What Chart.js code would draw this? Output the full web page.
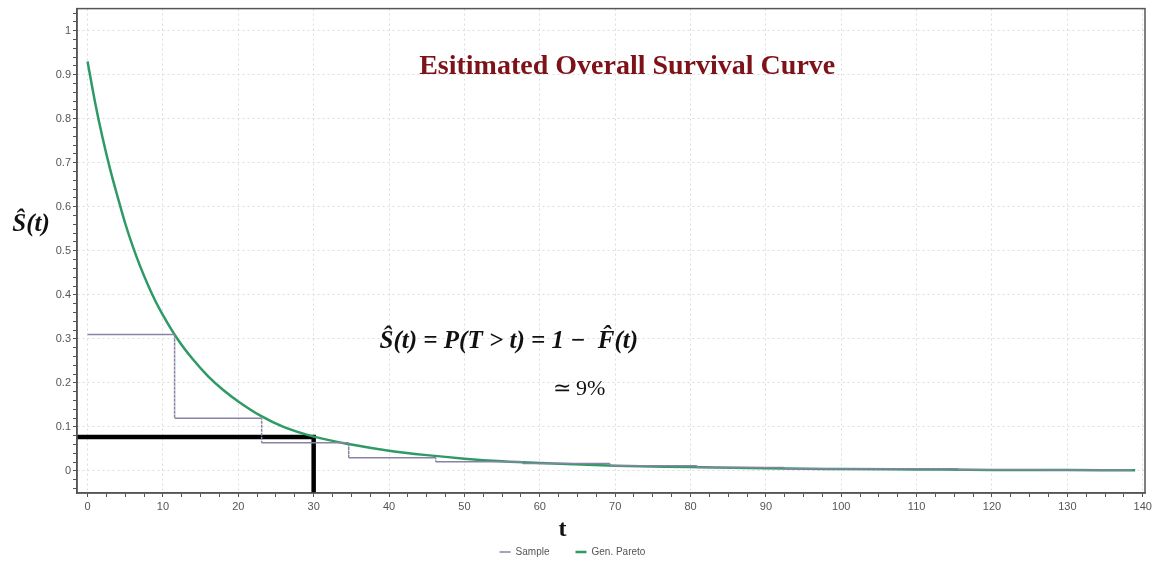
<!DOCTYPE html>
<html>
<head>
<meta charset="utf-8">
<script src="https://cdn.jsdelivr.net/npm/chart.js@4.4.1/dist/chart.umd.min.js"></script>
<style>
  body { margin: 0; background: #fff; }
</style>
</head>
<body>
<canvas id="myChart" width="1158" height="563"></canvas>
<script>
// fitted generalized Pareto survival curve
const paretoT = [0, 1, 2, 3, 4, 5, 6, 7, 8, 9, 10, 12, 14, 16, 18, 20, 23, 26, 30, 35, 40, 45, 50, 55, 60, 70, 80, 90, 100, 110, 120, 130, 139];
const paretoS = [0.93, 0.837, 0.756, 0.685, 0.622, 0.562, 0.51, 0.464, 0.423, 0.386, 0.354, 0.298, 0.253, 0.215, 0.184, 0.158, 0.125, 0.1, 0.078, 0.06, 0.046, 0.036, 0.028, 0.022, 0.018, 0.012, 0.009, 0.006, 0.0045, 0.0035, 0.0025, 0.002, 0.0015];

// sample step function: jump times and the level held until the next jump
const sampleT = [0, 11.55, 23.1, 34.65, 46.2, 57.75, 69.3, 80.85, 92.4, 103.95, 115.5, 127.05, 138.6];
const sampleS = [0.31, 0.12, 0.064, 0.03, 0.021, 0.017, 0.012, 0.008, 0.005, 0.005, 0.003, 0.002];

// reading at t = 30
const markT = 30;
const markS = 0.077;

const xTickLabels = [0, 10, 20, 30, 40, 50, 60, 70, 80, 90, 100, 110, 120, 130, 140];
const yTickLabels = [0, 0.1, 0.2, 0.3, 0.4, 0.5, 0.6, 0.7, 0.8, 0.9, 1];

const xMin = -1.4, xMax = 140.3;
const yMin = -0.05, yMax = 1.05;

//build point lists from the arrays
const paretoPoints = paretoT.map((t, i) => ({x: t, y: paretoS[i]}));
const samplePoints = [];
for (let i = 0; i < sampleS.length; i++) {
    samplePoints.push({x: sampleT[i], y: sampleS[i]});
    samplePoints.push({x: sampleT[i + 1], y: sampleS[i]});
}
const markPoints = [{x: xMin, y: markS}, {x: markT, y: markS}, {x: markT, y: yMin}];

const isMajor = (v, list) => list.some(m => Math.abs(m - v) < 1e-6);

const frameAndText = {
    id: 'frameAndText',
    afterDraw(chart) {
        const {ctx, chartArea: a} = chart;
        const xs = chart.scales.x, ys = chart.scales.y;
        ctx.save();
        ctx.strokeStyle = '#555';
        ctx.lineWidth = 1.5;
        ctx.strokeRect(a.left, a.top, a.right - a.left, a.bottom - a.top);

        ctx.textAlign = 'center';
        ctx.textBaseline = 'middle';

        ctx.fillStyle = '#7d1219';
        ctx.font = "bold 28px 'Liberation Serif'";
        ctx.fillText('Esitimated Overall Survival Curve', xs.getPixelForValue(71.6), ys.getPixelForValue(0.918));

        ctx.fillStyle = '#111';
        ctx.font = "bold italic 25px 'Liberation Serif'";
        ctx.fillText('\u015C(t) = P(T > t) = 1 \u2212  F\u0302(t)', xs.getPixelForValue(55.9), ys.getPixelForValue(0.295));
        ctx.font = "22px 'Liberation Serif'";
        ctx.fillText('\u2243 9%', xs.getPixelForValue(65.2), ys.getPixelForValue(0.186));

        ctx.font = "bold italic 25px 'Liberation Serif'";
        ctx.fillText('\u015C(t)', a.left - 46, ys.getPixelForValue(0.56));
        ctx.font = "bold 24px 'Liberation Serif'";
        ctx.fillText('t', xs.getPixelForValue(63), a.bottom + 37);
        ctx.restore();
    }
};

const myChart = new Chart(document.getElementById('myChart'), {
    type: 'line',
    data: {
        datasets: [{
            label: 'Sample',
            data: samplePoints,
            borderColor: '#8a82a2',
            backgroundColor: '#8a82a2',
            borderWidth: 1.5,
            pointRadius: 0,
            segment: {
                borderDash: ctx => ctx.p0.parsed.x === ctx.p1.parsed.x ? [1.5, 2.5] : undefined
            }
        }, {
            label: 'Gen. Pareto',
            data: paretoPoints,
            borderColor: '#2e9a66',
            backgroundColor: '#2e9a66',
            borderWidth: 2.5,
            pointRadius: 0,
            cubicInterpolationMode: 'monotone'
        }, {
            label: '',
            data: markPoints,
            borderColor: '#000',
            borderWidth: 4.5,
            pointRadius: 0,
            borderCapStyle: 'butt',
            borderJoinStyle: 'miter'
        }]
    },
    options: {
        responsive: false,
        animation: false,
        devicePixelRatio: 1,
        layout: {padding: {top: 8, right: 13, left: 0, bottom: -4}},
        plugins: {
            tooltip: {enabled: false},
            legend: {
                position: 'bottom',
                labels: {
                    filter: item => item.text !== '',
                    usePointStyle: true,
                    pointStyle: 'line',
                    pointStyleWidth: 11,
                    color: '#555',
                    padding: 26,
                    font: {family: 'Liberation Sans', size: 10}
                }
            }
        },
        scales: {
            x: {
                type: 'linear',
                min: xMin,
                max: xMax,
                afterFit: axis => { axis.height = 28; },
                afterBuildTicks: axis => {
                    const ticks = [];
                    for (let k = 0; k <= 56; k++) ticks.push({value: k * 2.5});
                    axis.ticks = ticks;
                },
                ticks: {
                    autoSkip: false,
                    maxRotation: 0,
                    padding: 3,
                    color: '#555',
                    font: {family: 'Liberation Sans', size: 11},
                    callback: v => isMajor(v, xTickLabels) ? String(Math.round(v)) : ''
                },
                grid: {
                    color: ctx => ctx.tick && isMajor(ctx.tick.value, xTickLabels) ? '#dcdcdc' : 'rgba(0,0,0,0)',
                    tickColor: '#555',
                    tickLength: 4
                },
                border: {color: '#555', width: 1.5, dash: [2, 3]}
            },
            y: {
                type: 'linear',
                min: yMin,
                max: yMax,
                afterFit: axis => { axis.width = 77; },
                afterBuildTicks: axis => {
                    const ticks = [];
                    for (let k = -2; k <= 52; k++) ticks.push({value: Math.round(k * 2) / 100});
                    axis.ticks = ticks;
                },
                ticks: {
                    autoSkip: false,
                    padding: 2,
                    color: '#555',
                    font: {family: 'Liberation Sans', size: 11},
                    callback: v => isMajor(v, yTickLabels) ? String(Math.round(v * 10) / 10) : ''
                },
                grid: {
                    color: ctx => ctx.tick && isMajor(ctx.tick.value, yTickLabels) ? '#dcdcdc' : 'rgba(0,0,0,0)',
                    tickColor: '#555',
                    tickLength: 4
                },
                border: {color: '#555', width: 1.5, dash: [2, 3]}
            }
        }
    },
    plugins: [frameAndText]
});
</script>
</body>
</html>
